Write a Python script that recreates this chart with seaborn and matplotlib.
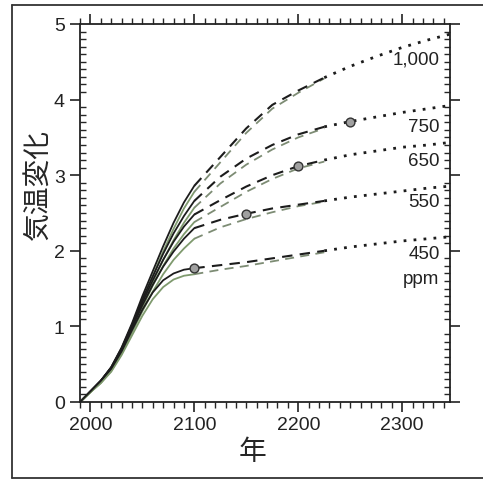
import numpy as np
import pandas as pd
import matplotlib
matplotlib.use("Agg")
import matplotlib.pyplot as plt
from matplotlib.lines import Line2D
from matplotlib.ticker import MultipleLocator
import seaborn as sns

# ---------------- data ----------------
scenarios = ["1,000", "750", "650", "550", "450"]
years_hist = [1990, 2000, 2010, 2020, 2030, 2040, 2050, 2060, 2070, 2080, 2090, 2100]

hist_black = {
    "1,000": [0, 0.14, 0.28, 0.46, 0.72, 1.04, 1.40, 1.73, 2.06, 2.37, 2.64, 2.86],
    "750":   [0, 0.14, 0.28, 0.46, 0.71, 1.02, 1.36, 1.66, 1.96, 2.23, 2.46, 2.66],
    "650":   [0, 0.14, 0.28, 0.45, 0.70, 1.00, 1.32, 1.61, 1.88, 2.12, 2.32, 2.48],
    "550":   [0, 0.14, 0.28, 0.45, 0.69, 0.98, 1.28, 1.55, 1.79, 1.99, 2.16, 2.30],
    "450":   [0, 0.14, 0.28, 0.44, 0.67, 0.95, 1.22, 1.45, 1.61, 1.70, 1.75, 1.77],
}
hist_green = {
    "1,000": [0, 0.13, 0.27, 0.44, 0.68, 1.00, 1.34, 1.67, 1.99, 2.29, 2.56, 2.78],
    "750":   [0, 0.13, 0.26, 0.43, 0.67, 0.97, 1.29, 1.59, 1.88, 2.14, 2.37, 2.57],
    "650":   [0, 0.13, 0.26, 0.42, 0.66, 0.95, 1.25, 1.54, 1.80, 2.03, 2.22, 2.38],
    "550":   [0, 0.13, 0.25, 0.41, 0.64, 0.92, 1.20, 1.46, 1.69, 1.88, 2.03, 2.16],
    "450":   [0, 0.13, 0.25, 0.40, 0.62, 0.88, 1.14, 1.36, 1.52, 1.62, 1.67, 1.69],
}

years_dash = [2100, 2125, 2150, 2175, 2200, 2225]
years_dot = [2225, 2250, 2275, 2300, 2325, 2350]
dash_black = {
    "1,000": [2.86, 3.24, 3.62, 3.93, 4.12, 4.29],
    "750":   [2.66, 2.98, 3.22, 3.40, 3.54, 3.64],
    "650":   [2.48, 2.67, 2.85, 3.00, 3.12, 3.20],
    "550":   [2.30, 2.41, 2.49, 2.56, 2.61, 2.66],
    "450":   [1.77, 1.81, 1.85, 1.90, 1.95, 2.00],
}
dash_green = {
    "1,000": [2.78, 3.17, 3.56, 3.88, 4.09, 4.28],
    "750":   [2.57, 2.89, 3.14, 3.34, 3.50, 3.62],
    "650":   [2.38, 2.58, 2.78, 2.95, 3.09, 3.18],
    "550":   [2.16, 2.31, 2.42, 2.51, 2.59, 2.65],
    "450":   [1.69, 1.75, 1.80, 1.86, 1.92, 1.98],
}
dot_black = {
    "1,000": [4.29, 4.44, 4.57, 4.69, 4.79, 4.88],
    "750":   [3.64, 3.71, 3.77, 3.83, 3.88, 3.93],
    "650":   [3.20, 3.27, 3.32, 3.37, 3.40, 3.44],
    "550":   [2.66, 2.71, 2.75, 2.79, 2.83, 2.86],
    "450":   [2.00, 2.05, 2.09, 2.13, 2.16, 2.19],
}

# stabilisation markers
marker_years = [2100, 2150, 2200, 2250]
marker_vals = [1.77, 2.49, 3.12, 3.71]

# right-hand labels
label_texts = ["1,000", "750", "650", "550", "450", "ppm"]
label_y = [4.54, 3.65, 3.19, 2.65, 1.96, 1.63]

x_ticks = [2000, 2100, 2200, 2300]
y_ticks = [0, 1, 2, 3, 4, 5]

# ---------------- plot ----------------
sns.set_theme(style="white")
plt.rcParams["font.family"] = ["Liberation Sans", "Noto Sans CJK JP", "DejaVu Sans"]

fig = plt.figure(figsize=(4.83, 4.81), dpi=100)
ax = fig.add_axes([80 / 483, 1 - 403 / 481, 370 / 483, 378 / 481])

BLACK = "#1c1c1c"
GREEN = "#7f9a6e"

for s in scenarios:
    sns.lineplot(x=years_hist, y=hist_green[s], ax=ax, color=GREEN, lw=1.3,
                 estimator=None, sort=False)
    sns.lineplot(x=years_hist, y=hist_black[s], ax=ax, color=BLACK, lw=1.3,
                 estimator=None, sort=False)
    sns.lineplot(x=years_dash, y=dash_green[s], ax=ax, color="#7d8c74", lw=1.3,
                 estimator=None, sort=False, linestyle=(0, (5, 3.5)))
    sns.lineplot(x=years_dash, y=dash_black[s], ax=ax, color=BLACK, lw=1.5,
                 estimator=None, sort=False, linestyle=(0, (5, 3.5)))
    sns.lineplot(x=years_dot, y=dot_black[s], ax=ax, color=BLACK, lw=2.0,
                 estimator=None, sort=False, linestyle=(0, (1, 2.6)))

sns.scatterplot(x=marker_years, y=marker_vals, ax=ax, s=40, color="#a0a0a0",
                edgecolor="#333333", linewidth=1.0, zorder=5)

for t, yv in zip(label_texts, label_y):
    ax.text(2336, yv, t, ha="right", va="center", fontsize=13.5, color="#222222")

ax.set_xlim(1990, 2346)
ax.set_ylim(0, 5)
ax.set_xticks(x_ticks)
ax.set_yticks(y_ticks)
ax.xaxis.set_minor_locator(MultipleLocator(10))
ax.yaxis.set_minor_locator(MultipleLocator(0.1))
ax.tick_params(axis="both", which="major", labelsize=14, colors="#222222")
ax.tick_params(axis="x", which="major", direction="out", length=7, width=1.2,
               top=True, bottom=True, pad=3)
ax.tick_params(axis="x", which="minor", direction="out", length=4, width=1.0,
               top=True, bottom=True)
ax.tick_params(axis="y", which="major", direction="out", length=7, width=1.2,
               left=True, right=True, pad=4)
ax.tick_params(axis="y", which="minor", direction="in", length=4, width=1.0,
               left=True, right=True)
for sp in ax.spines.values():
    sp.set_color("#222222")
    sp.set_linewidth(1.3)

ax.set_xlabel("年", fontsize=20, family=["Noto Sans CJK JP"])
ax.set_ylabel("気温変化", fontsize=20, family=["Noto Sans CJK JP"])
ax.xaxis.set_label_coords(0.465, -0.13)
ax.yaxis.set_label_coords(-0.114, 0.577)
ax.xaxis.label.set_va("center")
ax.yaxis.label.set_va("center")

# scanned page frame
fig.add_artist(Line2D([12 / 483, 12 / 483], [1 - 6 / 481, 1 - 479 / 481],
                      transform=fig.transFigure, color="#333333", lw=1.3))
fig.add_artist(Line2D([12 / 483, 1], [1 - 6 / 481, 1 - 6 / 481],
                      transform=fig.transFigure, color="#333333", lw=1.3))
fig.add_artist(Line2D([12 / 483, 1], [1 - 479 / 481, 1 - 479 / 481],
                      transform=fig.transFigure, color="#333333", lw=1.3))

fig.savefig("out.png", dpi=100)
